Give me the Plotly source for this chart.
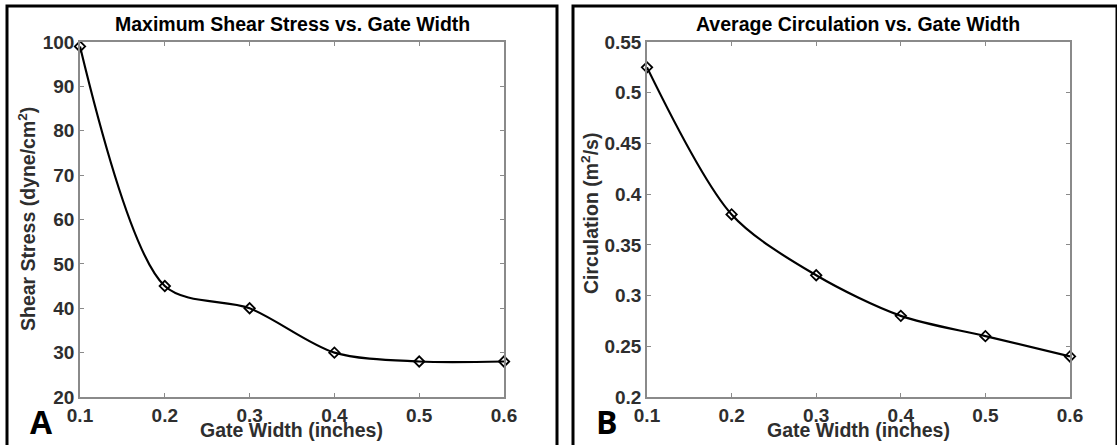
import plotly.graph_objects as go

# Gate widths tested (inches)
gate_width = [0.1, 0.2, 0.3, 0.4, 0.5, 0.6]
# Panel A: maximum shear stress (dyne/cm^2)
shear_stress = [99, 45, 40, 30, 28, 28]
# Panel B: average circulation (m^2/s)
circulation = [0.525, 0.38, 0.32, 0.28, 0.26, 0.24]

x_ticks = [0.1, 0.2, 0.3, 0.4, 0.5, 0.6]
x_tick_text = ["0.1", "0.2", "0.3", "0.4", "0.5", "0.6"]
shear_ticks = [20, 30, 40, 50, 60, 70, 80, 90, 100]
circ_ticks = [0.2, 0.25, 0.3, 0.35, 0.4, 0.45, 0.5, 0.55]
circ_tick_text = ["0.2", "0.25", "0.3", "0.35", "0.4", "0.45", "0.5", "0.55"]

W, H = 1117, 445
FONT = "Liberation Sans"
AXIS_GRAY = "#8a8a8a"
TEXT_GRAY = "#2e2e2e"


def px(x):
    return x / W


def py(y):
    return 1 - y / H


fig = go.Figure()

line_style = dict(color="black", width=2.2, shape="spline", smoothing=0.85)
marker_style = dict(symbol="diamond-open", size=8, color="black",
                    line=dict(color="black", width=1.8))

fig.add_trace(go.Scatter(x=gate_width, y=shear_stress, mode="lines+markers",
                         line=line_style, marker=marker_style, cliponaxis=False,
                         xaxis="x", yaxis="y", showlegend=False))
fig.add_trace(go.Scatter(x=gate_width, y=circulation, mode="lines+markers",
                         line=line_style, marker=marker_style, cliponaxis=False,
                         xaxis="x2", yaxis="y2", showlegend=False))

axis_common = dict(
    showline=True, linecolor=AXIS_GRAY, linewidth=1.5, mirror="ticks",
    ticks="inside", ticklen=4, tickwidth=1, tickcolor=AXIS_GRAY,
    showgrid=False, zeroline=False, automargin=False,
    tickfont=dict(family=FONT, size=19, color=TEXT_GRAY, weight="bold"),
)

left_dom = [px(80), px(504)]
right_dom = [px(647), px(1070)]
y_dom = [py(397), py(42)]

x_common = dict(range=[0.1, 0.6], tickvals=x_ticks, ticktext=x_tick_text,
                **axis_common)

fig.update_layout(
    width=W, height=H, autosize=False,
    margin=dict(l=0, r=0, t=0, b=0, pad=0, autoexpand=False),
    paper_bgcolor="white", plot_bgcolor="white",
    xaxis=dict(domain=left_dom, anchor="y", **x_common),
    yaxis=dict(domain=y_dom, range=[20, 100], tickvals=shear_ticks,
               anchor="x", **axis_common),
    xaxis2=dict(domain=right_dom, anchor="y2", **x_common),
    yaxis2=dict(domain=y_dom, range=[0.2, 0.55], tickvals=circ_ticks,
                ticktext=circ_tick_text, anchor="x2", **axis_common),
)

annotations = []


def text(x, y, s, size, color="black", angle=0, family=FONT):
    annotations.append(dict(
        x=px(x), y=py(y), xref="paper", yref="paper", text=s, showarrow=False,
        xanchor="center", yanchor="middle", textangle=angle,
        font=dict(family=family, size=size, color=color, weight="bold"),
    ))


# Panel titles
text(292, 24, "Maximum Shear Stress vs. Gate Width", 19.5)
text(858, 24, "Average Circulation vs. Gate Width", 19.5)
# X axis labels
text(291, 430, "Gate Width (inches)", 19.5, TEXT_GRAY)
text(858, 430, "Gate Width (inches)", 19.5, TEXT_GRAY)
# Y axis labels
text(27, 219, "Shear Stress (dyne/cm<sup>2</sup>)", 19.5, TEXT_GRAY, -90)
text(590, 214, "Circulation (m<sup>2</sup>/s)", 19.5, TEXT_GRAY, -90)
# Panel letters
text(41, 421, "A", 32, family="Open Sans")
text(607, 421, "B", 32, family="Open Sans")

fig.update_layout(annotations=annotations)

# Panel frames (left, top and right edges; the bottom runs off the page)
frame = dict(color="black", width=3)
for x0, x1 in [(7, 557), (573, 1117)]:
    fig.add_shape(type="path", xref="paper", yref="paper",
                  path=f"M {px(x0)} 0 L {px(x0)} {py(6)} L {px(x1)} {py(6)} L {px(x1)} 0",
                  line=frame)

fig.write_html("out.html")
